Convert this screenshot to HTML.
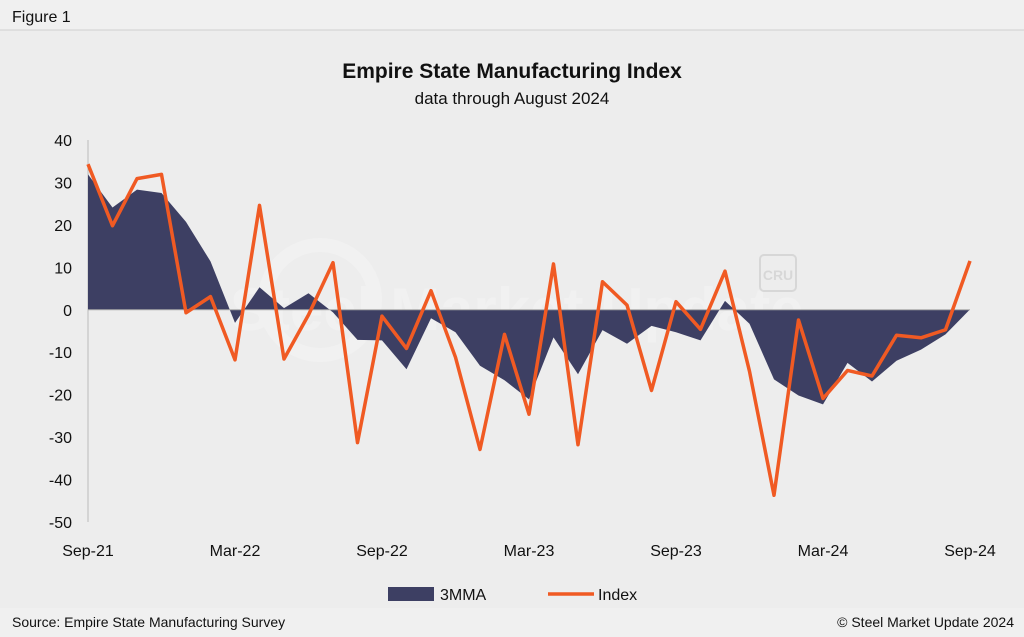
<!DOCTYPE html>
<html><head><meta charset="utf-8">
<style>
body{margin:0;background:#fff;font-family:"Liberation Sans",Arial,sans-serif;}
#wrap{position:relative;width:1024px;height:637px;background:#efefef;overflow:hidden;}
</style></head>
<body>
<div id="wrap">
<svg id="chart" width="1024" height="637" font-family="Liberation Sans, Arial, sans-serif">
  <rect x="0" y="0" width="1024" height="637" fill="#f0f0f0"/>
  <rect x="0" y="30" width="1024" height="578" fill="#ededed"/>
  <line x1="0" y1="30" x2="1024" y2="30" stroke="#cfcfcf"/>
  <text x="12" y="22" font-size="16" fill="#111">Figure 1</text>
  <text x="512" y="78" font-size="21" font-weight="bold" text-anchor="middle" fill="#111">Empire State Manufacturing Index</text>
  <text x="512" y="104" font-size="17" text-anchor="middle" fill="#111">data through August 2024</text>
  <g opacity="0.25">
    <circle cx="320" cy="300" r="55" fill="none" stroke="#fff" stroke-width="14"/>
    <text x="230" y="330" font-size="60" font-weight="bold" fill="#fff">Steel Market Update</text>
    <rect x="760" y="255" width="36" height="36" rx="4" fill="none" stroke="#999" stroke-width="2"/>
    <text x="778" y="280" font-size="14" font-weight="bold" text-anchor="middle" fill="#999">CRU</text>
  </g>
  <g id="axes"></g>
  <g id="marks"></g>
  <g>
    <rect x="388" y="587" width="46" height="14" fill="#3d3f63"/>
    <text x="440" y="600" font-size="16" fill="#111">3MMA</text>
    <line x1="548" y1="594" x2="594" y2="594" stroke="#f05a23" stroke-width="3.5"/>
    <text x="598" y="600" font-size="16" fill="#111">Index</text>
  </g>
  <text x="12" y="627" font-size="14" fill="#111">Source: Empire State Manufacturing Survey</text>
  <text x="1014" y="627" font-size="14" text-anchor="end" fill="#111">© Steel Market Update 2024</text>
</svg>
</div>
<script>
const months = ["Sep-21","Oct-21","Nov-21","Dec-21","Jan-22","Feb-22","Mar-22","Apr-22","May-22","Jun-22","Jul-22","Aug-22","Sep-22","Oct-22","Nov-22","Dec-22","Jan-23","Feb-23","Mar-23","Apr-23","May-23","Jun-23","Jul-23","Aug-23","Sep-23","Oct-23","Nov-23","Dec-23","Jan-24","Feb-24","Mar-24","Apr-24","May-24","Jun-24","Jul-24","Aug-24","Sep-24"];
const indexValues = [34.3,19.8,30.9,31.9,-0.7,3.1,-11.8,24.6,-11.6,-1.2,11.1,-31.3,-1.5,-9.1,4.5,-11.2,-32.9,-5.8,-24.6,10.8,-31.8,6.6,1.1,-19.0,1.9,-4.6,9.1,-14.5,-43.7,-2.4,-20.9,-14.3,-15.6,-6.0,-6.6,-4.7,11.5];
const mmaValues = [31.9,24.1,28.3,27.5,20.7,11.4,-3.1,5.3,0.4,3.9,-0.6,-7.1,-7.2,-14.0,-2.0,-5.3,-13.2,-16.6,-21.1,-6.5,-15.2,-4.8,-8.0,-3.8,-5.3,-7.2,2.1,-3.3,-16.4,-20.2,-22.3,-12.5,-16.9,-12.0,-9.4,-5.8,0.1];
const yTicks = [40,30,20,10,0,-10,-20,-30,-40,-50];
const xTickLabels = ["Sep-21","Mar-22","Sep-22","Mar-23","Sep-23","Mar-24","Sep-24"];

const X0=88, X1=970, Y0=140, Y1=522, YMAX=40, YMIN=-50;
const xs = i => X0 + i*(X1-X0)/(months.length-1);
const ys = v => Y0 + (YMAX-v)*(Y1-Y0)/(YMAX-YMIN);
const NS="http://www.w3.org/2000/svg";
const axes=document.getElementById('axes'), marks=document.getElementById('marks');
function mk(tag, attrs, parent){const e=document.createElementNS(NS,tag);for(const k in attrs)e.setAttribute(k,attrs[k]);parent.appendChild(e);return e;}

yTicks.forEach(v=>{
  const t=mk('text',{x:72,y:ys(v)+6,'font-size':16,'text-anchor':'end',fill:'#111'},axes);
  t.textContent=v;
  
  
});
xTickLabels.forEach(l=>{
  const i=months.indexOf(l);
  const t=mk('text',{x:xs(i),y:556,'font-size':16,'text-anchor':'middle',fill:'#111'},axes);
  t.textContent=l;
  
  
});
const ya=mk('line',{x1:X0,y1:Y0,x2:X0,y2:Y1,stroke:'#bbb'},axes);



let d=`M${xs(0)},${ys(0)}`;
mmaValues.forEach((v,i)=>{d+=` L${xs(i)},${ys(v)}`;});
d+=` L${xs(mmaValues.length-1)},${ys(0)} Z`;
const area=mk('path',{d:d,fill:'#3d3f63'},marks);



const zl=mk('line',{x1:X0,y1:ys(0),x2:X1,y2:ys(0),stroke:'#aaa','stroke-width':1},marks);



const pts=indexValues.map((v,i)=>`${xs(i)},${ys(v)}`).join(' ');
const line=mk('polyline',{points:pts,fill:'none',stroke:'#f05a23','stroke-width':3.5,'stroke-linejoin':'round'},marks);


</script>
</body></html>
